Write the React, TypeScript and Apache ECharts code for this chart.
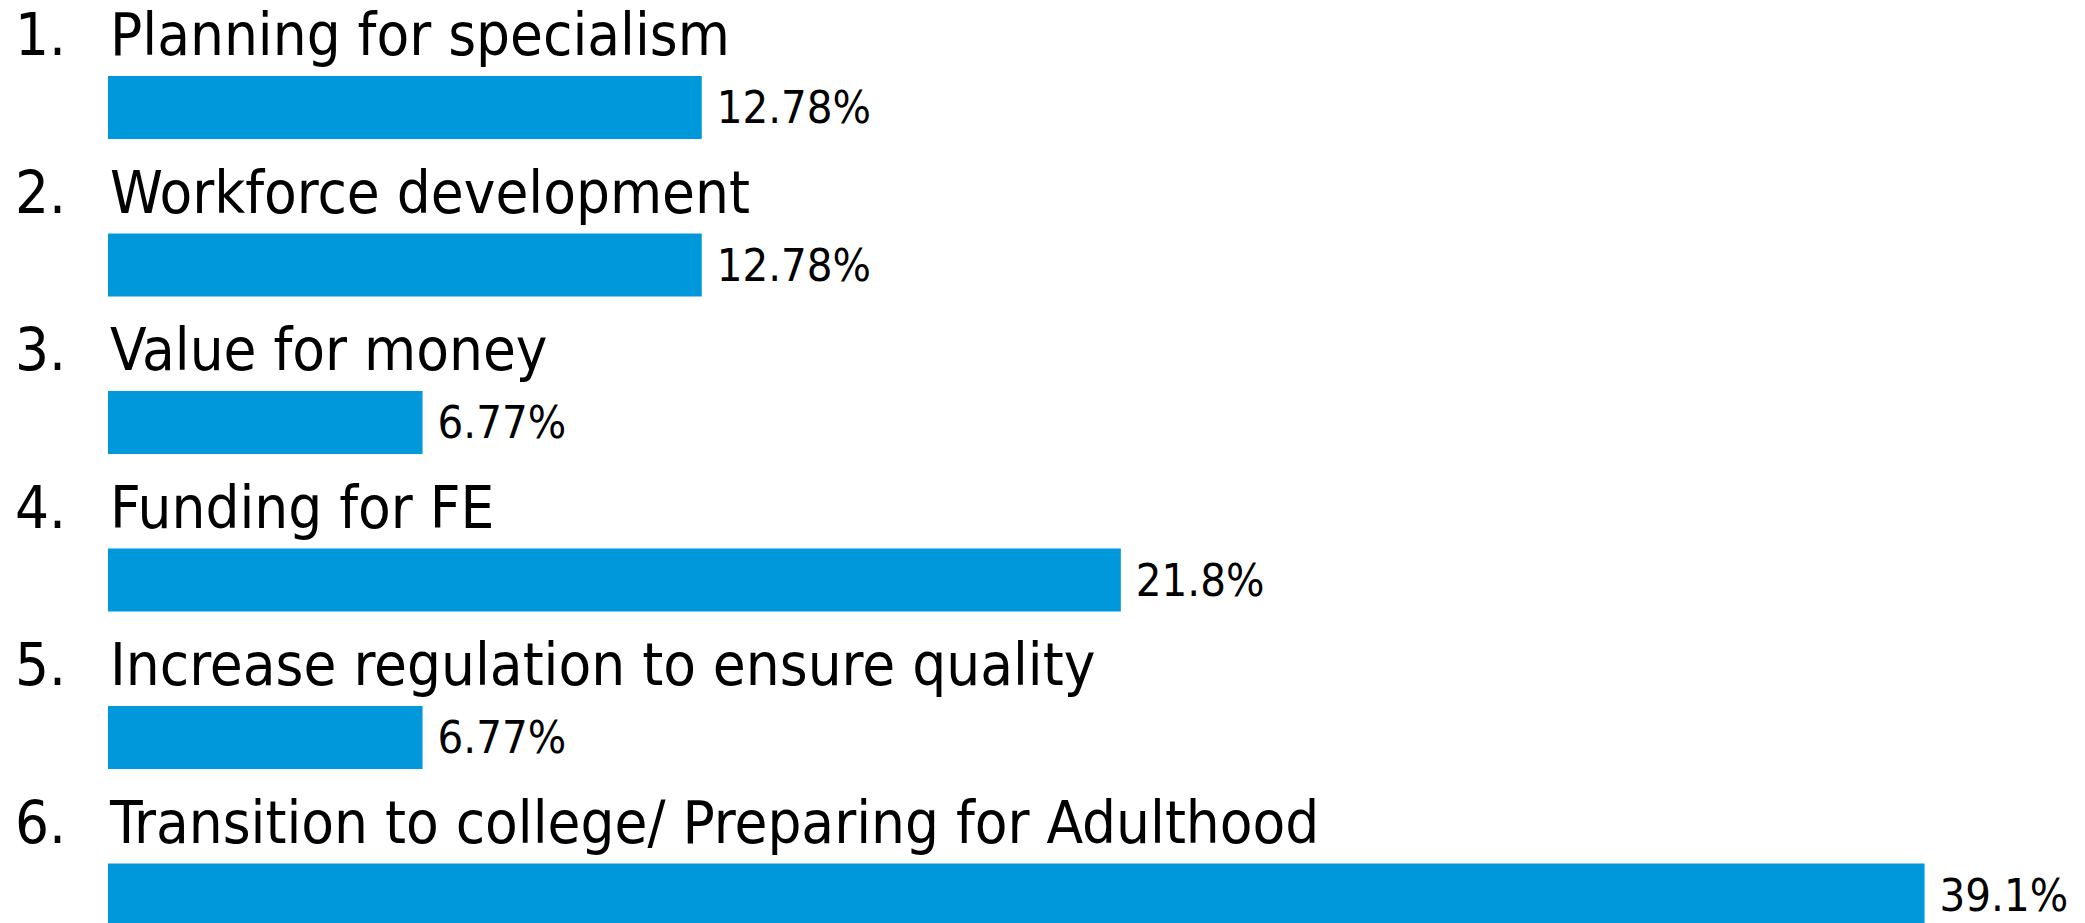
import React, { useEffect, useRef } from "react";
import * as echarts from "echarts";

const categories = [
  "Planning for specialism",
  "Workforce development",
  "Value for money",
  "Funding for FE",
  "Increase regulation to ensure quality",
  "Transition to college/ Preparing for Adulthood",
];
const values = [12.78, 12.78, 6.77, 21.8, 6.77, 39.1];

export default function App() {
  const ref = useRef<HTMLDivElement>(null);
  useEffect(() => {
    if (!ref.current) return;
    const chart = echarts.init(ref.current, null, { renderer: "svg" });
    const font = "'DejaVu Sans Condensed', 'Liberation Sans', sans-serif";
    chart.setOption({
      animation: false,
      backgroundColor: "#ffffff",
      grid: {
        left: 108,
        width: 1858.4,
        top: 28.75,
        height: 945,
        outerBoundsMode: "none",
        containLabel: false,
      },
      xAxis: {
        type: "value",
        min: 0,
        max: 40,
        show: false,
        splitLine: { show: false },
      },
      yAxis: {
        type: "category",
        data: categories,
        inverse: true,
        axisLine: { show: false },
        axisTick: { show: false },
        splitLine: { show: false },
        axisLabel: {
          interval: 0,
          margin: 93,
          align: "left",
          verticalAlign: "middle",
          padding: [0, 0, 146, 0],
          color: "#000000",
          fontFamily: font,
          fontSize: 59.5,
          formatter: (v: string, i: number) => `{n|${i + 1}.}{t|${v}}`,
          rich: {
            n: { width: 95, fontSize: 59.5, fontFamily: font, color: "#000000" },
            t: { fontSize: 59.5, fontFamily: font, color: "#000000" },
          },
        },
      },
      series: [
        {
          type: "bar",
          data: values,
          barWidth: 63,
          itemStyle: { color: "#0098DB" },
          label: {
            show: true,
            position: "right",
            distance: 15,
            color: "#000000",
            fontFamily: font,
            fontSize: 45,
            formatter: (p: any) => `${p.value}%`,
          },
        },
      ],
    });
    return () => chart.dispose();
  }, []);
  return (
    <div
      ref={ref}
      style={{ position: "absolute", left: 0, top: 0, width: 2085, height: 923 }}
    />
  );
}
